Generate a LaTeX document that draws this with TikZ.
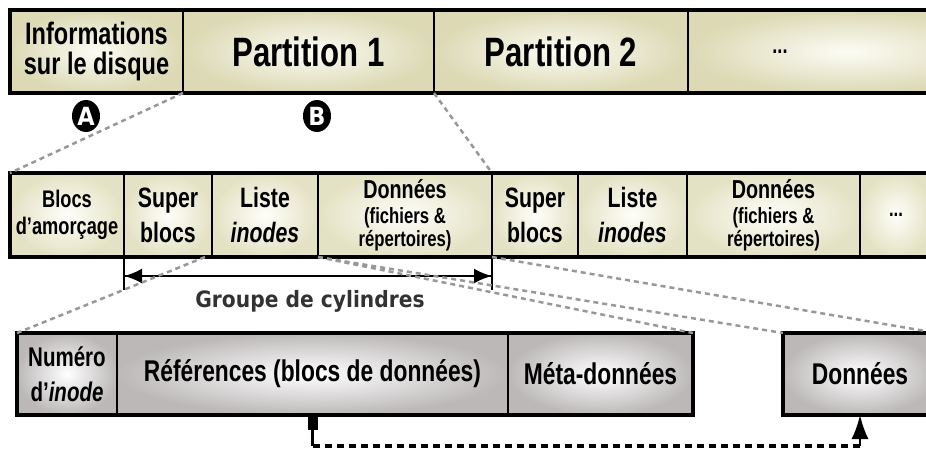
\documentclass[tikz,border=0pt]{standalone}
\usepackage{fontspec}
\setmainfont[FakeStretch=0.76, UprightFont={* Bold}, ItalicFont={* Bold Italic}]{Liberation Sans}
\newfontfamily\labelfont[FakeStretch=0.9]{DejaVu Sans}
\usepackage{tikz}
\usetikzlibrary{arrows.meta}
\usetikzlibrary{decorations.markings}
\usetikzlibrary{positioning}
\usetikzlibrary{shapes.geometric}
\tikzset{<->/.style = {decoration={markings,
                                   mark=at position 0 with {\arrowreversed{Latex[length=18pt, width=15pt]}},
                                   mark=at position 1 with {\arrow{Latex[length=18pt, width=15pt]}}},
                       postaction={decorate}}}
\tikzset{cell/.style = {draw, line width=2.5, inner sep=0, outer sep=0, align=center, text=black}}
\tikzset{disk/.style = {cell, minimum height=83, inner color=diskin, outer color=diskout}}
\tikzset{grp/.style = {cell, minimum height=84, inner color=grpin, outer color=grpout}}
\tikzset{blk/.style = {cell, minimum height=82, inner color=white, outer color=blkout}}
\tikzset{tag/.style = {ellipse, fill=black, text=white, inner sep=0, minimum width=28,
                       minimum height=32, font=\labelfont\bfseries\fontsize{25}{25}\selectfont}}
\tikzset{zoomline/.style = {draw=dashgray, line width=2.5, dash pattern=on 5 off 4}}
\definecolor{diskin}{RGB}{252,252,245}
\definecolor{diskout}{RGB}{220,217,180}
\definecolor{grpin}{RGB}{254,254,250}
\definecolor{grpout}{RGB}{228,226,196}
\definecolor{blkout}{RGB}{188,184,184}
\definecolor{dashgray}{RGB}{152,152,152}
\definecolor{labelgray}{RGB}{50,50,50}
\begin{document}
\begin{tikzpicture}[x=1pt, y=-1pt]
  \useasboundingbox (0,0) rectangle (926,450);
  \clip (0,0) rectangle (926,450);

  % le disque
  \node[disk, minimum width=173, font=\fontsize{31}{30}\selectfont] (info) at (96.5,51.5) {Informations\\sur le disque};
  \node[disk, minimum width=251, font=\fontsize{41}{44}\selectfont, right=0pt of info] (part1) {Partition 1};
  \node[disk, minimum width=254, font=\fontsize{41}{44}\selectfont, right=0pt of part1] (part2) {Partition 2};
  \node[disk, minimum width=320, right=0pt of part2] (partmore) {};
  \node[font=\fontsize{24}{24}\selectfont] (moredots) at (780,51.5) {...};
  \draw[line width=4] (info.north west) rectangle (partmore.south east);
  \node[tag] (tagA) at (86,116) {A};
  \node[tag] (tagB) at (317,116) {B};

  % une partition
  \node[grp, minimum width=114, font=\fontsize{24}{27}\selectfont] (boot) at (67,215) {Blocs\\d’amorçage};
  \node[grp, minimum width=88, font=\fontsize{28}{35}\selectfont, right=0pt of boot] (sb1) {Super\\blocs};
  \node[grp, minimum width=106, font=\fontsize{28}{35}\selectfont, right=0pt of sb1] (li1) {Liste\\\textit{inodes}};
  \node[grp, minimum width=174, font=\fontsize{22}{23}\selectfont, right=0pt of li1] (data1)
    {{\fontsize{26}{26}\selectfont Données}\\[2pt](fichiers \&\\répertoires)};
  \node[grp, minimum width=86, font=\fontsize{28}{35}\selectfont, right=0pt of data1] (sb2) {Super\\blocs};
  \node[grp, minimum width=109, font=\fontsize{28}{35}\selectfont, right=0pt of sb2] (li2) {Liste\\\textit{inodes}};
  \node[grp, minimum width=173, font=\fontsize{22}{23}\selectfont, right=0pt of li2] (data2)
    {{\fontsize{26}{26}\selectfont Données}\\[2pt](fichiers \&\\répertoires)};
  \node[grp, minimum width=72, font=\fontsize{22}{22}\selectfont, right=0pt of data2] (grpmore) {...};
  \draw[line width=4] (boot.north west) rectangle (grpmore.south east);

  % groupe de cylindres
  \draw[line width=2] (sb1.south west) -- ++(0,33);
  \draw[line width=2] (sb2.south west) -- ++(0,33);
  \draw[<->, line width=2.5] ([yshift=-19pt]sb1.south west) -- ([yshift=-19pt]sb2.south west);
  \node[font=\labelfont\bfseries\fontsize{22.5}{24}\selectfont, text=labelgray] (grouplbl) at (310,301) {Groupe de cylindres};

  % une inode
  \node[blk, minimum width=100, font=\fontsize{27}{35}\selectfont] (num) at (67,374) {Numéro\\d’\textit{inode}};
  \node[blk, minimum width=391, font=\fontsize{30}{30}\selectfont, right=0pt of num] (refs) {Références (blocs de données)};
  \node[blk, minimum width=185, font=\fontsize{30}{30}\selectfont, right=0pt of refs] (meta) {Méta-données};
  \draw[line width=4] (num.north west) rectangle (meta.south east);
  \node[blk, line width=4, minimum width=154, font=\fontsize{30}{30}\selectfont] (datablk) at (860,374) {Données};

  % zooms
  \draw[zoomline] (part1.south west) -- (boot.north west);
  \draw[zoomline] (part1.south east) -- (sb2.north west);
  \draw[zoomline] ([xshift=-7pt]li1.south west) -- (num.north west);
  \draw[zoomline] (data1.south west) -- (meta.north east);
  \draw[zoomline] (data1.south west) -- (datablk.north west);
  \draw[zoomline] (sb2.south west) -- (datablk.north east);

  % reference vers les donnees
  \draw[line width=10] (refs.south) -- ++(0,15);
  \draw[line width=2.5] ([yshift=-15pt]refs.south) -- ++(0,16);
  \draw[line width=3.5, dash pattern=on 7 off 5] ([yshift=-31pt]refs.south) -- ([yshift=-31pt]datablk.south);
  \draw[line width=2, -{Latex[length=24pt, width=17pt]}] ([yshift=-31pt]datablk.south) -- (datablk.south);
\end{tikzpicture}
\end{document}
